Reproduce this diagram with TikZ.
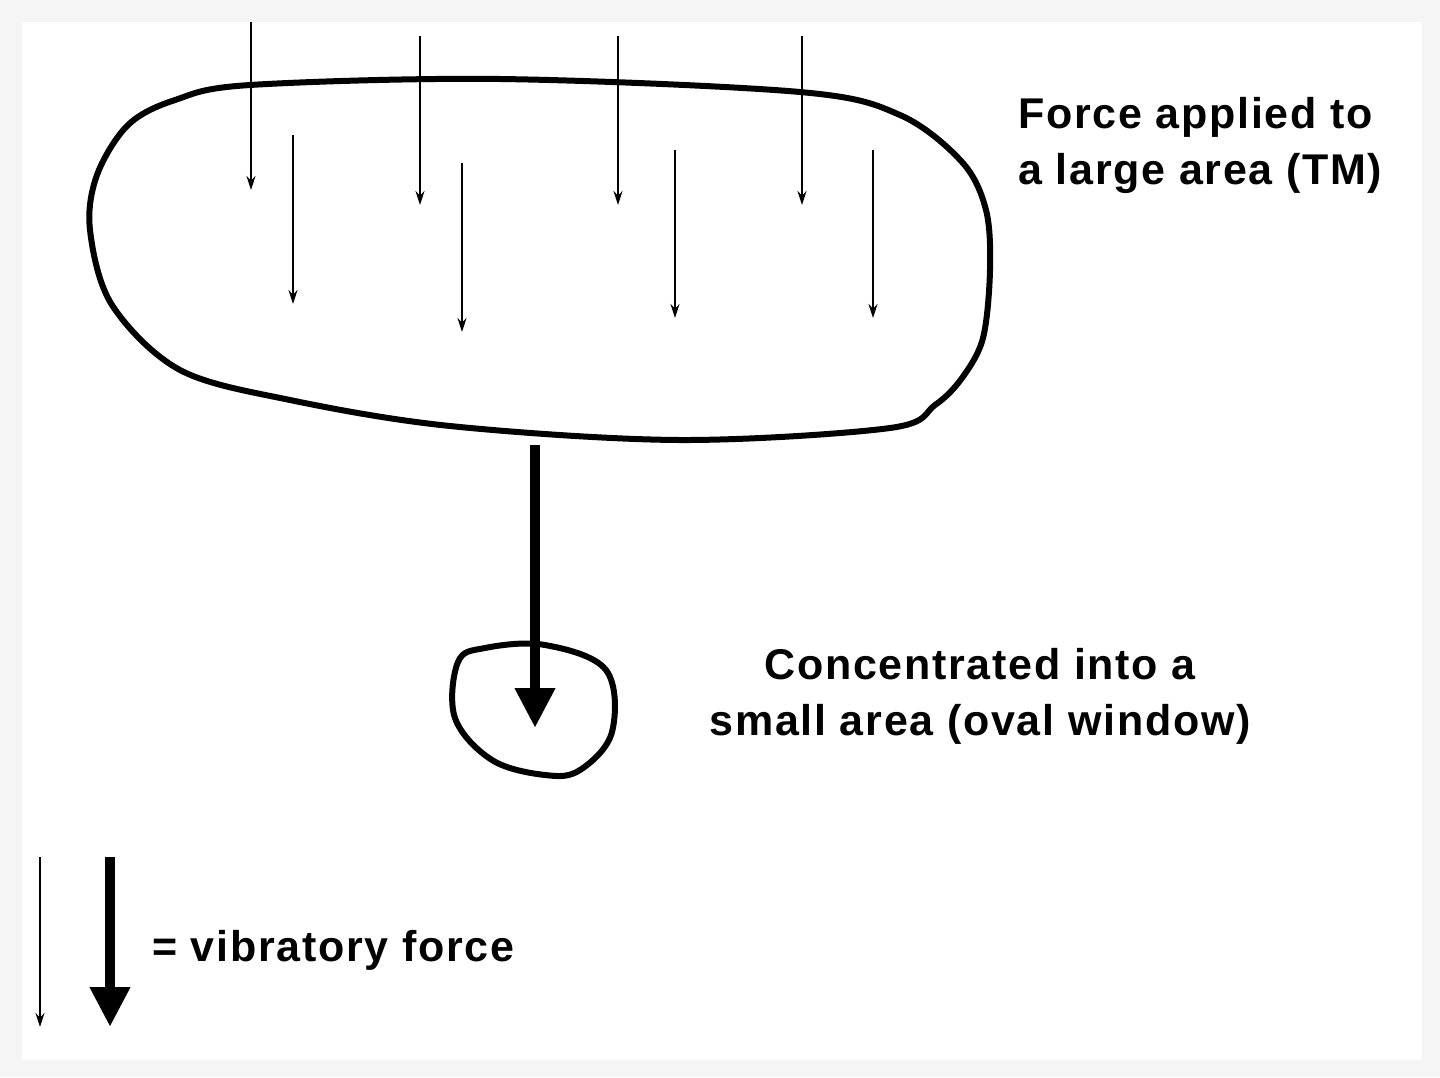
\documentclass[tikz,border=0pt]{standalone}
\usepackage{fontspec}
\setmainfont{Liberation Sans}
\newfontfamily\lblfont[LetterSpace=4]{Liberation Sans}
\usetikzlibrary{arrows.meta}
\begin{document}
\begin{tikzpicture}[x=1pt,y=-1pt,
  thinarr/.style={line width=1.3pt,-{Stealth[length=14pt,width=9pt]}},
  thickarr/.style={line width=10pt,-{Triangle[length=40pt,width=38pt]}},
  outline/.style={line width=6pt,line join=round},
  lbl/.style={font=\lblfont\fontsize{43}{56}\selectfont\bfseries,align=left,anchor=north west,inner sep=0pt}]
\useasboundingbox (0,0) rectangle (1440,1077);
\fill[black!4] (0,0) rectangle (1440,1077);
\fill[white] (22,22) rectangle (1422,1060);
% big blob (TM)
\draw[outline] plot[smooth cycle,tension=0.55] coordinates {(175,100) (250,85) (500,79) (800,92) (900,115) (962,162) (986,210) (990,270) (983,338) (962,378) (935,405) (890,428) (680,440) (450,426) (290,400) (180,370) (112,305) (90,230) (97,175) (128,125)};
% small circle (oval window)
\draw[outline] plot[smooth cycle,tension=0.6] coordinates {(458,662) (485,648) (545,645) (606,670) (612,732) (580,770) (545,775) (492,760) (455,718)};
% thin arrows
\coordinate (a1) at (251,22);  \coordinate (b1) at (251,190);
\coordinate (a2) at (420,36);  \coordinate (b2) at (420,205);
\coordinate (a3) at (618,36);  \coordinate (b3) at (618,205);
\coordinate (a4) at (802,36);  \coordinate (b4) at (802,205);
\coordinate (a5) at (293,135); \coordinate (b5) at (293,304);
\coordinate (a6) at (462,163); \coordinate (b6) at (462,332);
\coordinate (a7) at (675,150); \coordinate (b7) at (675,318);
\coordinate (a8) at (873,150); \coordinate (b8) at (873,318);
\foreach \i in {1,...,8} \draw[thinarr] (a\i) -- (b\i);
% thick arrow
\coordinate (t1) at (535,445); \coordinate (t2) at (535,728);
\draw[thickarr] (t1) -- (t2);
% legend
\coordinate (l1) at (40,857); \coordinate (l2) at (40,1027);
\draw[thinarr] (l1) -- (l2);
\coordinate (k1) at (110,857); \coordinate (k2) at (110,1027);
\draw[thickarr] (k1) -- (k2);
\node[lbl] (tm) at (1018,97) {Force applied to\\a large area (TM)};
\node[lbl,align=center,anchor=north] (ow) at (980,648) {Concentrated into a\\small area (oval window)};
\node[lbl] (leg) at (152,930) {= vibratory force};
\end{tikzpicture}
\end{document}
